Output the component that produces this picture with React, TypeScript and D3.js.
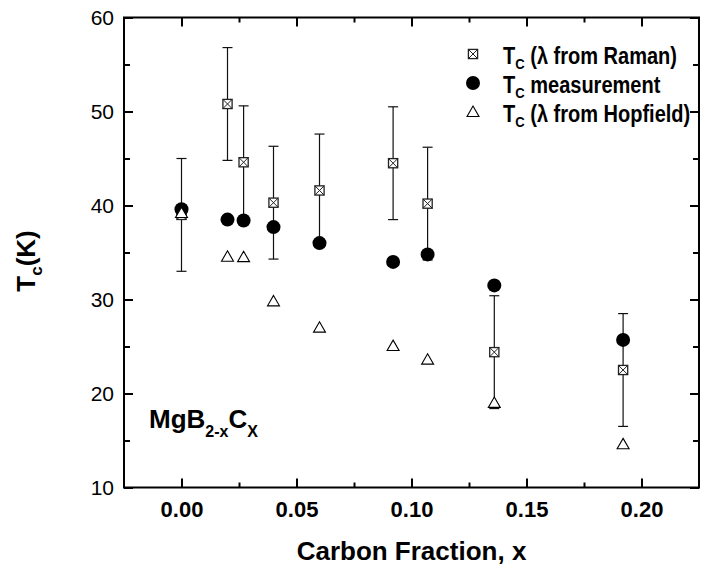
import * as d3 from "d3";
import { useEffect, useRef } from "react";

// carbon fraction x of MgB(2-x)C(x)
const carbonX = [0, 0.02, 0.027, 0.04, 0.06, 0.092, 0.107, 0.136, 0.192];
// Tc with lambda taken from Raman, and its error bar
const tcRaman = [39, 50.8, 44.6, 40.3, 41.6, 44.5, 40.2, 24.4, 22.5];
const tcRamanErr = [6, 6, 6, 6, 6, 6, 6, 6, 6];
// measured Tc
const tcMeasured = [39.6, 38.5, 38.4, 37.7, 36.0, 34.0, 34.8, 31.5, 25.7];
// Tc with lambda from Hopfield
const tcHopfield = [39.2, 34.55, 34.5, 29.8, 27.0, 25.05, 23.6, 19.0, 14.6];

const xMajorTicks = [0, 0.05, 0.1, 0.15, 0.2];
const xMinorTicks = [0.025, 0.075, 0.125, 0.175];
const yMajorTicks = [10, 20, 30, 40, 50, 60];
const yMinorTicks = [15, 25, 35, 45, 55];

const legendLabels = ["(λ from Raman)", "measurement", "(λ from Hopfield)"];

const W = 701;
const H = 576;
const M = { left: 124, right: 2, top: 17.5, bottom: 88.5 };
const FONT = "'Liberation Sans', Arial, Helvetica, sans-serif";

const App = () => {
  const axesRef = useRef<SVGGElement>(null);

  const x = d3
    .scaleLinear()
    .domain([-0.025, 0.225])
    .range([M.left, W - M.right]);
  const y = d3
    .scaleLinear()
    .domain([10, 60])
    .range([H - M.bottom, M.top]);

  useEffect(() => {
    if (!axesRef.current) return;
    const g = d3.select(axesRef.current);
    g.selectAll("*").remove();

    const style = (sel: any) => {
      sel.select(".domain").remove();
      sel.selectAll("line").attr("stroke", "#000").attr("stroke-width", 2);
      sel.selectAll("text").attr("fill", "#000").attr("font-family", FONT);
    };

    // bottom, labelled
    g.append("g")
      .attr("transform", `translate(0,${y.range()[0]})`)
      .call(
        d3
          .axisBottom(x)
          .tickValues(xMajorTicks)
          .tickSize(-9)
          .tickPadding(14)
          .tickFormat(d3.format(".2f"))
      )
      .call(style)
      .selectAll("text")
      .attr("font-size", 22)
      .attr("font-weight", "bold");
    g.append("g")
      .attr("transform", `translate(0,${y.range()[0]})`)
      .call(d3.axisBottom(x).tickValues(xMinorTicks).tickSize(-5).tickFormat(() => ""))
      .call(style);

    // top, no labels
    g.append("g")
      .attr("transform", `translate(0,${y.range()[1]})`)
      .call(d3.axisTop(x).tickValues(xMajorTicks).tickSize(-9).tickFormat(() => ""))
      .call(style);
    g.append("g")
      .attr("transform", `translate(0,${y.range()[1]})`)
      .call(d3.axisTop(x).tickValues(xMinorTicks).tickSize(-5).tickFormat(() => ""))
      .call(style);

    // left, labelled
    g.append("g")
      .attr("transform", `translate(${x.range()[0]},0)`)
      .call(d3.axisLeft(y).tickValues(yMajorTicks).tickSize(-9).tickPadding(10))
      .call(style)
      .selectAll("text")
      .attr("font-size", 21);
    g.append("g")
      .attr("transform", `translate(${x.range()[0]},0)`)
      .call(d3.axisLeft(y).tickValues(yMinorTicks).tickSize(-6).tickFormat(() => ""))
      .call(style);

    // right, no labels
    g.append("g")
      .attr("transform", `translate(${x.range()[1]},0)`)
      .call(d3.axisRight(y).tickValues(yMajorTicks).tickSize(-9).tickFormat(() => ""))
      .call(style);
    g.append("g")
      .attr("transform", `translate(${x.range()[1]},0)`)
      .call(d3.axisRight(y).tickValues(yMinorTicks).tickSize(-6).tickFormat(() => ""))
      .call(style);
  }, []);

  const sq = 4.6; // half side of the crossed square
  const tri = d3.symbol(d3.symbolTriangle, 62)();
  const x0 = x.range()[0];
  const x1 = x.range()[1];
  const y0 = y.range()[0];
  const y1 = y.range()[1];

  const crossedSquare = (cx: number, cy: number, key: string) => (
    <g key={key} transform={`translate(${cx},${cy})`}>
      <rect x={-sq} y={-sq} width={sq * 2} height={sq * 2} fill="#fff" stroke="#222" strokeWidth={1.3} />
      <path d={`M${-sq},${-sq}L${sq},${sq}M${sq},${-sq}L${-sq},${sq}`} stroke="#222" strokeWidth={1} />
    </g>
  );
  const triangle = (cx: number, cy: number, key: string) => (
    <path key={key} d={tri!} transform={`translate(${cx},${cy + 1})`} fill="#fff" stroke="#000" strokeWidth={1.1} />
  );

  const legendX = 473;
  const legendText = 503;
  const legendRows = [54, 83, 112];
  const legendMarks = [
    crossedSquare(legendX, legendRows[0], "ls"),
    <circle key="lc" cx={legendX} cy={legendRows[1]} r={7} fill="#000" />,
    triangle(legendX, legendRows[2], "lt"),
  ];

  return (
    <svg
      width={W}
      height={H}
      style={{ position: "absolute", left: 0, top: 0, background: "#fff" }}
      fontFamily={FONT}
    >
      {/* error bars for the Raman estimate */}
      <g stroke="#111" strokeWidth={1.2}>
        {carbonX.map((cx, i) => {
          const px = x(cx);
          const top = y(tcRaman[i] + tcRamanErr[i]);
          const bot = y(tcRaman[i] - tcRamanErr[i]);
          return (
            <g key={`e${i}`}>
              <line x1={px} x2={px} y1={top} y2={bot} />
              <line x1={px - 5} x2={px + 5} y1={top} y2={top} />
              <line x1={px - 5} x2={px + 5} y1={bot} y2={bot} />
            </g>
          );
        })}
      </g>
      {carbonX.map((cx, i) => crossedSquare(x(cx), y(tcRaman[i]), `s${i}`))}
      {carbonX.map((cx, i) => (
        <circle key={`c${i}`} cx={x(cx)} cy={y(tcMeasured[i])} r={7} fill="#000" />
      ))}
      {carbonX.map((cx, i) => triangle(x(cx), y(tcHopfield[i]), `t${i}`))}

      {/* frame */}
      <rect x={x0} y={y1} width={x1 - x0} height={y0 - y1} fill="none" stroke="#000" strokeWidth={2} />
      <g ref={axesRef} />

      {/* legend */}
      {legendMarks}
      <g fontSize={23} fontWeight="bold" fill="#000">
        {legendLabels.map((label, i) => (
          <text key={label} transform={`translate(${legendText},${legendRows[i] + 10}) scale(0.87,1)`}>
            T<tspan fontSize={15} dy={5}>C</tspan>
            <tspan dy={-5}> {label}</tspan>
          </text>
        ))}
      </g>

      {/* compound label */}
      <text x={149} y={428} fontSize={26} fontWeight="bold">
        MgB<tspan fontSize={16} dy={9}>2-x</tspan>
        <tspan dy={-9}>C</tspan>
        <tspan fontSize={16} dy={9}>X</tspan>
      </text>

      {/* axis titles */}
      <text x={(x0 + x1) / 2} y={560} textAnchor="middle" fontSize={26} fontWeight="bold">
        Carbon Fraction, x
      </text>
      <text transform={`translate(35,261) rotate(-90)`} textAnchor="middle" fontSize={26} fontWeight="bold">
        T<tspan fontSize={17} dy={7}>c</tspan>
        <tspan dy={-7}>(K)</tspan>
      </text>
    </svg>
  );
};

export default App;
